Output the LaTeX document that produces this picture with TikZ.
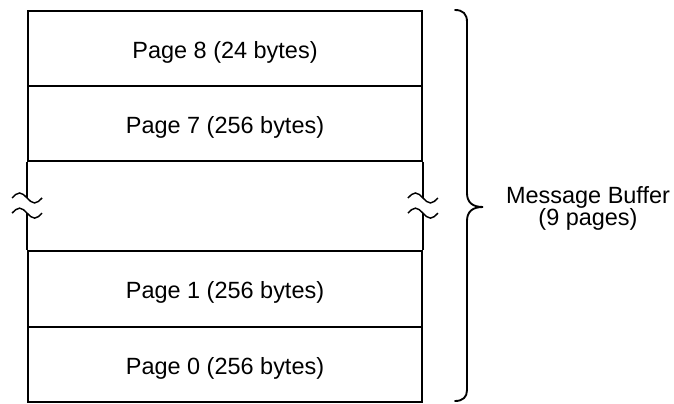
\documentclass[tikz,border=0pt]{standalone}
\usepackage{fontspec}
\setmainfont{Liberation Sans}
\usetikzlibrary{calc}

\begin{document}
\begin{tikzpicture}[x=0.75pt,y=-0.75pt,
  every node/.style={font=\fontsize{17.6}{16.5}\selectfont},
  page/.style={draw=black,line width=1.4pt,minimum width=295.5pt,inner sep=0pt,
    text height=14.8pt,text depth=0pt,align=center},
  edge/.style={line width=1.4pt},
  wave/.style={line width=1.1pt},
  brk/.pic={\draw[wave] (-15,0) sin (-7.5,-5) cos (0,0) sin (7.5,5) cos (15,0);},
  brace/.style={line width=1.4pt,line cap=round}]
\useasboundingbox (0,0) rectangle (674,403);
\node[page,minimum height=56.5pt] (p8) at (225,48.4) {Page 8 (24 bytes)};
\node[page,minimum height=56.3pt] (p7) at (225,123.5) {Page 7 (256 bytes)};
\node[page,minimum height=56.6pt] (p1) at (225,288.8) {Page 1 (256 bytes)};
\node[page,minimum height=56.6pt] (p0) at (225,364.3) {Page 0 (256 bytes)};
% broken side walls of the skipped pages
\draw[edge] (p7.south west) -- ++(0,36) coordinate (lw1);
\draw[edge] (p1.north west) -- ++(0,-37) coordinate (lw2);
\draw[edge] (p7.south east) -- ++(0,36) coordinate (rw1);
\draw[edge] (p1.north east) -- ++(0,-37) coordinate (rw2);
\pic at (lw1) {brk}; \pic at (lw2) {brk};
\pic at (rw1) {brk}; \pic at (rw2) {brk};
% brace
\coordinate (tip) at (483,207);
\draw[brace] (455,10) .. controls (463,10) and (467,14) .. (467,22) -- (467,193)
  .. controls (467,202) and (472,207) .. (tip)
  .. controls (472,207) and (467,212) .. (467,221) -- (467,390)
  .. controls (467,397) and (463,401) .. (455,401);
\node[align=center,inner sep=0pt] (buf) at (588,208) {Message Buffer\\(9 pages)};
\end{tikzpicture}
\end{document}
